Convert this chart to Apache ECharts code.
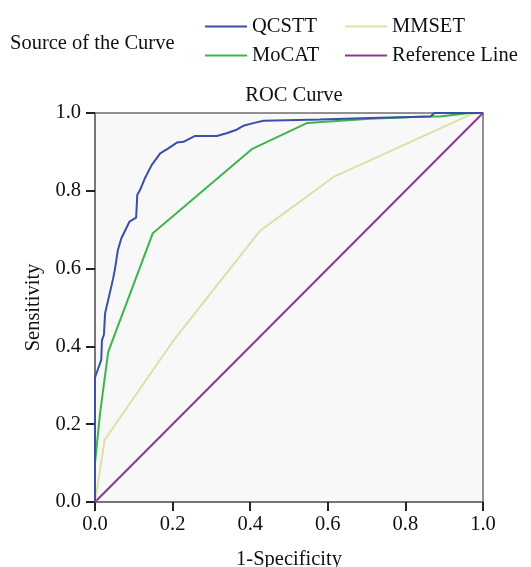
<!DOCTYPE html>
<html>
<head>
<meta charset="utf-8">
<script src="https://cdn.jsdelivr.net/npm/echarts@6/dist/echarts.min.js"></script>
<style>
  html, body { margin: 0; padding: 0; background: #fff; }
  #chart { width: 531px; height: 567px; }
</style>
</head>
<body>
<div id="chart"></div>
<script>
// ROC points: [1-specificity, sensitivity]
const qcstt = [
  [0, 0], [0, 0.32], [0.016, 0.365], [0.018, 0.416], [0.023, 0.43], [0.026, 0.485],
  [0.046, 0.571], [0.051, 0.596], [0.059, 0.648], [0.068, 0.678], [0.089, 0.721],
  [0.106, 0.731], [0.109, 0.79], [0.116, 0.802], [0.129, 0.833], [0.146, 0.866],
  [0.168, 0.896], [0.189, 0.909], [0.211, 0.924], [0.228, 0.926], [0.258, 0.941],
  [0.314, 0.941], [0.339, 0.948], [0.365, 0.957], [0.382, 0.967], [0.408, 0.974],
  [0.434, 0.98], [0.58, 0.983], [0.71, 0.987], [0.865, 0.991], [0.875, 1], [1, 1]
]
const mocat = [
  [0, 0], [0, 0.1], [0.013, 0.228], [0.034, 0.386], [0.149, 0.691], [0.404, 0.907],
  [0.546, 0.974], [0.709, 0.985], [0.855, 0.991], [0.889, 0.991], [0.966, 1], [1, 1]
]
const mmset = [
  [0, 0], [0.025, 0.16], [0.2, 0.412], [0.425, 0.697], [0.614, 0.835], [0.975, 0.999], [1, 1]
]
const refLine = [[0, 0], [1, 1]]
const ticks = [0, 0.2, 0.4, 0.6, 0.8, 1.0]

const font = 'Liberation Serif'
const fs = 20.5
const chart = echarts.init(document.getElementById('chart'))

const axisCommon = {
  type: 'value',
  min: ticks[0],
  max: ticks[ticks.length - 1],
  interval: 0.2,
  nameLocation: 'middle',
  nameTextStyle: { fontFamily: font, fontSize: fs, color: '#111' },
  axisLine: { show: true, lineStyle: { color: '#6e6e6e', width: 1.5 } },
  axisTick: { show: true, inside: false, length: 9, lineStyle: { color: '#222', width: 2 } },
  axisLabel: {
    fontFamily: font, fontSize: fs, color: '#111',
    formatter: (v) => v.toFixed(1),
  },
  splitLine: { show: false },
}

const legendCommon = {
  top: 11, orient: 'vertical', icon: 'rect', itemWidth: 42, itemHeight: 2, itemGap: 8,
  textStyle: { fontFamily: font, fontSize: fs, color: '#111' },
}

chart.setOption({
  animation: false,
  title: [
    { text: 'ROC Curve', left: 289, top: 80, textAlign: 'center',
      textStyle: { fontFamily: font, fontSize: fs, fontWeight: 'normal', color: '#111' } },
    { text: 'Source of the Curve', left: 5, top: 28,
      textStyle: { fontFamily: font, fontSize: fs, fontWeight: 'normal', color: '#111' } },
  ],
  legend: [
    { ...legendCommon, data: ['QCSTT', 'MoCAT'], left: 200 },
    { ...legendCommon, data: ['MMSET', 'Reference Line'], left: 340 },
  ],
  grid: {
    left: 95, right: 48, top: 113, bottom: 65, outerBoundsMode: 'none',
    show: true, backgroundColor: '#f8f8f8', borderColor: '#6e6e6e', borderWidth: 1.5,
  },
  xAxis: { ...axisCommon, name: '1-Specificity', nameGap: 47,
    axisLabel: { ...axisCommon.axisLabel, margin: 12 } },
  yAxis: { ...axisCommon, name: 'Sensitivity', nameGap: 50, nameRotate: 90,
    axisLabel: { ...axisCommon.axisLabel, margin: 14 } },
  series: [
    { name: 'QCSTT', type: 'line', data: qcstt, showSymbol: false, z: 5,
      lineStyle: { color: '#3b4fa6', width: 2 }, itemStyle: { color: '#3b4fa6' } },
    { name: 'MoCAT', type: 'line', data: mocat, showSymbol: false, z: 4,
      lineStyle: { color: '#3db54b', width: 2 }, itemStyle: { color: '#3db54b' } },
    { name: 'MMSET', type: 'line', data: mmset, showSymbol: false, z: 3,
      lineStyle: { color: '#dfdfa8', width: 2 }, itemStyle: { color: '#dfdfa8' } },
    { name: 'Reference Line', type: 'line', data: refLine, showSymbol: false, z: 2,
      lineStyle: { color: '#8a3a8c', width: 2 }, itemStyle: { color: '#8a3a8c' } },
  ],
})
</script>
</body>
</html>
